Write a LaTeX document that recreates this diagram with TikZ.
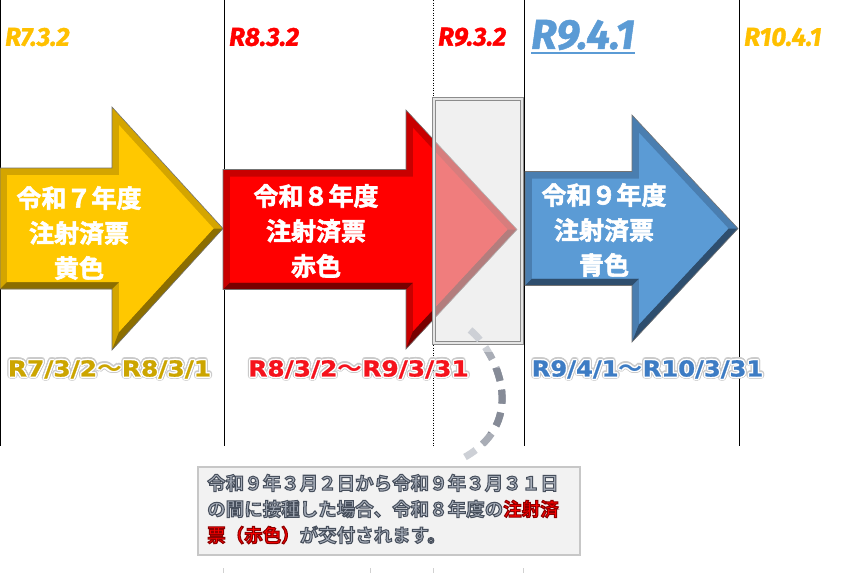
\documentclass[tikz,border=0pt]{standalone}
\usepackage{fontspec}
\usepackage{contour}
\contournumber{12}
\newfontfamily\cjk{Noto Sans CJK JP}[BoldFont={Noto Sans CJK JP Bold}]
\newfontfamily\cjkheavy{Noto Sans CJK JP Bold}[FakeBold=2.2]
\newfontfamily\cjkout{Noto Sans CJK JP Bold}[FakeBold=5.5]
\newfontfamily\labfont{Fira Sans}[ItalicFeatures={FakeBold=1.2},BoldItalicFeatures={FakeBold=1.2}]
\newfontfamily\datefont{DejaVu Sans}[BoldFeatures={FakeBold=1}]
\definecolor{yface}{HTML}{FFC800}
\definecolor{ymid}{HTML}{D4A500}
\definecolor{ydark}{HTML}{8C6E00}
\definecolor{rface}{HTML}{FF0000}
\definecolor{rmid}{HTML}{C80000}
\definecolor{rdark}{HTML}{780000}
\definecolor{bface}{HTML}{5B9BD5}
\definecolor{bmid}{HTML}{4A7EB0}
\definecolor{bdark}{HTML}{2E4E6E}
\definecolor{lorange}{HTML}{FFC000}
\definecolor{lred}{HTML}{FF0000}
\definecolor{lblue}{HTML}{5B9BD5}
\definecolor{dgold}{HTML}{CCA500}
\definecolor{dred}{HTML}{F5121C}
\definecolor{dblue}{HTML}{3D7CC4}
\definecolor{glow}{HTML}{CACACA}
\definecolor{cfill}{HTML}{A9B0BB}
\definecolor{dashlight}{HTML}{CDD0D6}
\definecolor{dashmid}{HTML}{A9ADB6}
\definecolor{dashdark}{HTML}{868B97}
\newcommand\bevarrow[9]{%
 \pgfmathsetmacro\Lx{10*veclen((#3-#2)/10,(#6)/10)}%
 \pgfmathsetmacro\tipi{#3-7*\Lx/(#6)}%
 \pgfmathsetmacro\cyi{#6-7*((#6)+\Lx)/(#3-#2)}%
 \coordinate (A) at (#1,#4-#5); \coordinate (B) at (#2,#4-#5);
 \coordinate (C) at (#2,#4-#6); \coordinate (D) at (#3,#4);
 \coordinate (E) at (#2,#4+#6); \coordinate (F) at (#2,#4+#5);
 \coordinate (G) at (#1,#4+#5);
 \coordinate (Ai) at (#1+7,#4-#5+7); \coordinate (Bi) at (#2+7,#4-#5+7);
 \coordinate (Ci) at (#2+7,#4-\cyi); \coordinate (Di) at (\tipi,#4);
 \coordinate (Ei) at (#2+7,#4+\cyi); \coordinate (Fi) at (#2+7,#4+#5-7);
 \coordinate (Gi) at (#1+7,#4+#5-7);
 \fill[#8] (A)--(B)--(C)--(D)--(E)--(F)--(G)--cycle;
 \fill[#9] (D)--(E)--(Ei)--(Di)--cycle;
 \fill[#9] (F)--(G)--(Gi)--(Fi)--cycle;
 \fill[#7] (Ai)--(Bi)--(Ci)--(Di)--(Ei)--(Fi)--(Gi)--cycle;
 \draw[black!55,line width=0.6] (A)--(B)--(C)--(D)--(E)--(F)--(G)--cycle;
}
% text filled in one colour and stroked in another
\newcommand\grtxt[1]{{\color{cfill}\special{pdf:code 0.28 0.31 0.36 RG}#1}}
\newcommand\rdtxt[1]{{\color{red}\special{pdf:code 0.55 0 0 RG}#1}}
\newcommand\glowtxt[1]{{\contourlength{2.5pt}\contour{glow}{\textcolor{glow}{#1}}}}
\newcommand\datetxt[2]{{\contourlength{1.3pt}\contour{white}{\textcolor{#1}{#2}}}}
\begin{document}
\begin{tikzpicture}[x=1pt,y=-1pt,
  vline/.style={black,line width=1},
  vdot/.style={black,line width=0.8,dash pattern=on 1pt off 1.5pt},
  toplab/.style={anchor=west,inner sep=0,font={\labfont\bfseries\itshape\fontsize{26}{26}\selectfont}},
  arrtext/.style={white,align=center,inner sep=0,font={\cjkheavy\fontsize{25}{35}\selectfont}},
  datelab/.style={inner sep=0,font={\datefont\bfseries\fontsize{22}{22}\selectfont}},
  calltext/.style={anchor=west,inner sep=0,font={\cjkout\fontsize{18.5}{18.5}\selectfont}},
  dashcurve/.style={line width=7,dash pattern=on 14pt off 9pt},
  tick/.style={black!18,line width=0.8}]
\useasboundingbox (0,0) rectangle (846,573);
\fill[white] (0,0) rectangle (846,573);
% vertical lines
\coordinate (l0t) at (0.5,0); \coordinate (l0b) at (0.5,446);
\coordinate (l1t) at (224,0); \coordinate (l1b) at (224,446);
\coordinate (l2t) at (433,0); \coordinate (l2b) at (433,446);
\coordinate (l3t) at (524,0); \coordinate (l3b) at (524,446);
\coordinate (l4t) at (739,0); \coordinate (l4b) at (739,446);
\draw[vline] (l0t) -- (l0b);
\draw[vline] (l1t) -- (l1b);
\draw[vdot] (l2t) -- (l2b);
\draw[vline] (l3t) -- (l3b);
\draw[vline] (l4t) -- (l4b);
% faint ticks at bottom
\foreach \tx/\tn in {223/a,370/b,433/c,523/d}{
  \coordinate (tk\tn1) at (\tx,568); \coordinate (tk\tn2) at (\tx,573);
  \draw[tick] (tk\tn1) -- (tk\tn2);}
% arrows
\bevarrow{0}{112}{223}{228.5}{60.5}{121.5}{yface}{ymid}{ydark}
\bevarrow{223}{406}{517}{229.5}{60}{119.5}{rface}{rmid}{rdark}
\bevarrow{525}{632}{738}{228.5}{57}{113.5}{bface}{bmid}{bdark}
% translucent box
\node[minimum width=88,minimum height=244,inner sep=0,
      fill=black!10,fill opacity=0.55,draw opacity=1,
      draw=black!45,line width=1.6,double=black!10,double distance=1.2] (box) at (478,221) {};
% arrow texts
\node[arrtext] (t7) at (79,233) {令和７年度\\注射済票\\黄色};
\node[arrtext] (t8) at (316,231) {令和８年度\\注射済票\\赤色};
\node[arrtext] (t9) at (604,230) {令和９年度\\注射済票\\青色};
% top labels
\node[toplab,text=lorange] (l732) at (5,37) {R7.3.2};
\node[toplab,text=lred] (l832) at (229,37) {R8.3.2};
\node[toplab,text=lred] (l932) at (438,37) {R9.3.2};
\node[toplab,text=lblue,font={\labfont\bfseries\itshape\fontsize{42}{42}\selectfont}] (l941) at (531,35) {R9.4.1};
\draw[lblue,line width=2.4] ([yshift=-2.5]l941.south west) -- ([yshift=-2.5]l941.south east);
\node[toplab,text=lorange] (l1041) at (744,37) {R10.4.1};
% date ranges (glow layer, then outlined text)
\node[datelab] (g1) at (109.5,370) {\glowtxt{\scalebox{1.13}[1]{R7/3/2{\cjk ～}R8/3/1}}};
\node[datelab] (d1) at (109.5,370) {\datetxt{dgold}{\scalebox{1.13}[1]{R7/3/2{\cjk ～}R8/3/1}}};
\node[datelab] (g2) at (358.5,370) {\glowtxt{\scalebox{1.13}[1]{R8/3/2{\cjk ～}R9/3/31}}};
\node[datelab] (d2) at (358.5,370) {\datetxt{dred}{\scalebox{1.13}[1]{R8/3/2{\cjk ～}R9/3/31}}};
\node[datelab] (g3) at (647.5,370) {\glowtxt{\scalebox{1.10}[1]{R9/4/1{\cjk ～}R10/3/31}}};
\node[datelab] (d3) at (647.5,370) {\datetxt{dblue}{\scalebox{1.10}[1]{R9/4/1{\cjk ～}R10/3/31}}};
% callout
\node[minimum width=382,minimum height=88,inner sep=0,fill=black!5,draw=black!22,line width=1.5] (call) at (389,511) {};
\coordinate (c0) at (470,330);
\coordinate (c1) at (465,457);
\draw[dashcurve,dashlight] (c0) .. controls (495,350) and (530,420) .. (c1);
\begin{scope}
\clip (440,352) rectangle (560,445);
\draw[dashcurve,dashmid] (c0) .. controls (495,350) and (530,420) .. (c1);
\end{scope}
\begin{scope}
\clip (440,368) rectangle (560,432);
\draw[dashcurve,dashdark] (c0) .. controls (495,350) and (530,420) .. (c1);
\end{scope}
\node[calltext] (ct1) at (207,483) {\grtxt{令和９年３月２日から令和９年３月３１日}};
\node[calltext] (ct2) at (207,509) {\grtxt{の間に接種した場合、令和８年度の}\rdtxt{注射済}};
\node[calltext] (ct3) at (207,535) {\rdtxt{票（赤色）}\grtxt{が交付されます。}};
\end{tikzpicture}
\end{document}
